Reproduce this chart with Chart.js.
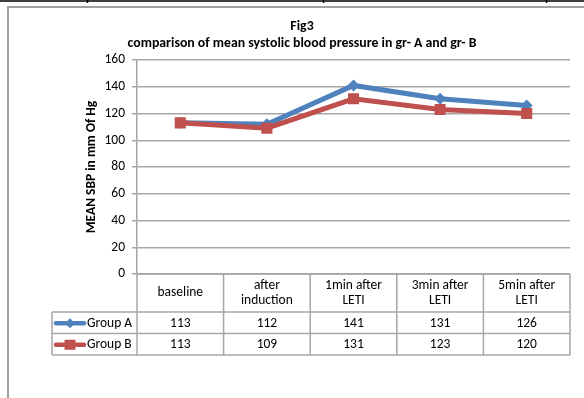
<!DOCTYPE html>
<html>
<head>
<meta charset="utf-8">
<script src="https://cdn.jsdelivr.net/npm/chart.js@4.4.1/dist/chart.umd.min.js"></script>
<style>
html,body{margin:0;padding:0;background:#fff;}
#wrap{position:absolute;left:0;top:0;width:584px;height:398px;}
</style>
</head>
<body>
<div id="wrap"><canvas id="c" width="584" height="398"></canvas></div>
<script>
const categories = [["baseline"], ["after", "induction"], ["1min after", "LETI"], ["3min after", "LETI"], ["5min after", "LETI"]];
const groupA = [113, 112, 141, 131, 126];
const groupB = [113, 109, 131, 123, 120];
const seriesNames = ["Group A", "Group B"];
const titleLines = ["Fig3", "comparison of mean systolic blood pressure in gr- A and gr- B"];
const yAxisTitle = "MEAN SBP in mm Of Hg";
const yTicks = [0, 20, 40, 60, 80, 100, 120, 140, 160];

const FONT = "Carlito, Lato, 'Liberation Sans', sans-serif";
const FS = 13.5;
const BLUE = "#4F81BD";
const RED = "#C0504D";
const GRID = "#a6a6a6";

const tablePlugin = {
  id: 'tablePlugin',
  beforeDraw(chart) {
    const ctx = chart.ctx;
    ctx.save();
    ctx.fillStyle = '#fff';
    ctx.fillRect(0, 0, chart.width, chart.height);
    ctx.strokeStyle = '#000';
    ctx.lineWidth = 1.5;
    ctx.beginPath();
    ctx.moveTo(0, 1); ctx.lineTo(584, 1);
    [87, 323, 546].forEach(x => { ctx.moveTo(x + 0.5, 0); ctx.lineTo(x + 0.5, 3); });
    ctx.stroke();
    ctx.strokeStyle = '#a0a0a0';
    ctx.lineWidth = 2;
    ctx.strokeRect(8, 7, 600, 420);
    ctx.fillStyle = '#000';
    ctx.font = "bold 13.8px " + FONT;
    ctx.textAlign = 'center';
    ctx.textBaseline = 'middle';
    ctx.fillText(titleLines[0], 302, 27);
    ctx.fillText(titleLines[1], 302, 44);
    ctx.restore();
  },
  afterDraw(chart) {
    const ctx = chart.ctx;
    const xs = chart.scales.x;
    const area = chart.chartArea;
    const n = categories.length;
    const step = xs.getPixelForValue(1) - xs.getPixelForValue(0);
    const top = area.bottom;
    const hdrBottom = top + 38;
    const rowH = 21.5;
    const rA = hdrBottom + rowH;
    const rB = rA + rowH;
    const tableLeft = 52;
    ctx.save();
    ctx.strokeStyle = GRID;
    ctx.lineWidth = 1.5;
    ctx.beginPath();
    ctx.moveTo(area.left, top); ctx.lineTo(area.right, top);
    [hdrBottom, rA, rB].forEach(y => { ctx.moveTo(tableLeft, y); ctx.lineTo(area.right, y); });
    ctx.moveTo(tableLeft, hdrBottom); ctx.lineTo(tableLeft, rB);
    for (let i = 0; i <= n; i++) {
      const x = xs.getPixelForValue(0) - step / 2 + i * step;
      ctx.moveTo(x, top); ctx.lineTo(x, rB);
    }
    ctx.stroke();
    ctx.fillStyle = '#000';
    ctx.font = FS + "px " + FONT;
    ctx.textAlign = 'center';
    ctx.textBaseline = 'middle';
    categories.forEach((lab, i) => {
      const cx = xs.getPixelForValue(i);
      const cy = (top + hdrBottom) / 2;
      if (lab.length === 1) {
        ctx.fillText(lab[0], cx, cy);
      } else {
        ctx.fillText(lab[0], cx, cy - 7.5);
        ctx.fillText(lab[1], cx, cy + 7.5);
      }
    });
    const rows = [groupA, groupB];
    const colors = [BLUE, RED];
    rows.forEach((vals, r) => {
      const cy = hdrBottom + rowH * r + rowH / 2 + 0.5;
      vals.forEach((v, i) => {
        ctx.fillStyle = '#000';
        ctx.textAlign = 'center';
        ctx.fillText(String(v), xs.getPixelForValue(i), cy);
      });
      ctx.strokeStyle = colors[r];
      ctx.lineWidth = 4.5;
      ctx.lineCap = 'round';
      ctx.beginPath();
      ctx.moveTo(56, cy); ctx.lineTo(84, cy);
      ctx.stroke();
      ctx.fillStyle = colors[r];
      if (r === 0) {
        ctx.beginPath();
        ctx.moveTo(70, cy - 5); ctx.lineTo(75, cy); ctx.lineTo(70, cy + 5); ctx.lineTo(65, cy);
        ctx.closePath(); ctx.fill();
      } else {
        ctx.fillRect(64.5, cy - 5, 11, 10);
      }
      ctx.fillStyle = '#000';
      ctx.textAlign = 'left';
      ctx.fillText(seriesNames[r], 87, cy);
    });
    ctx.restore();
  }
};

new Chart(document.getElementById('c'), {
  type: 'line',
  data: {
    labels: categories,
    datasets: [
      {
        label: seriesNames[0], data: groupA, borderColor: BLUE, backgroundColor: BLUE,
        borderWidth: 5, pointStyle: 'rectRot', pointRadius: 6, pointBorderWidth: 0,
        tension: 0, order: 1
      },
      {
        label: seriesNames[1], data: groupB, borderColor: RED, backgroundColor: RED,
        borderWidth: 5, pointStyle: 'rect', pointRadius: 7.8, pointBorderWidth: 0,
        tension: 0, order: 0
      }
    ]
  },
  options: {
    responsive: false,
    animation: false,
    devicePixelRatio: 1,
    layout: { padding: { top: 60, right: 14, bottom: 124, left: 0 } },
    plugins: { legend: { display: false }, title: { display: false }, tooltip: { enabled: false } },
    scales: {
      x: {
        type: 'category', offset: true, display: false,
        afterFit(s) { s.height = 0; }
      },
      y: {
        min: 0, max: 160,
        afterFit(s) { s.width = 137; },
        afterBuildTicks(s) { s.ticks = yTicks.map(v => ({ value: v })); },
        ticks: { stepSize: 20, color: '#000', font: { family: FONT, size: FS }, padding: 7 },
        grid: { color: GRID, lineWidth: 1.5, tickLength: 5, drawTicks: true },
        border: { color: GRID, width: 1.5 },
        title: {
          display: true, text: yAxisTitle, color: '#000',
          font: { family: FONT, size: FS, weight: 'bold' },
          padding: { top: 84, bottom: 0 }
        }
      }
    }
  },
  plugins: [tablePlugin]
});
</script>
</body>
</html>
